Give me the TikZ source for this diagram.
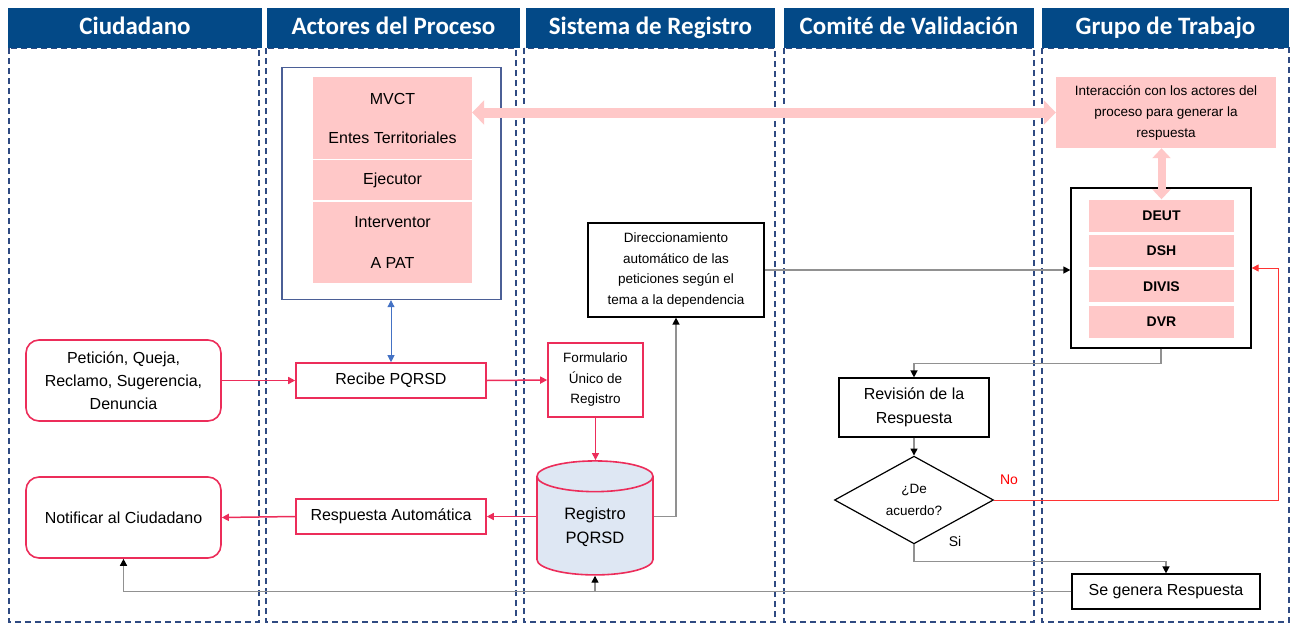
\documentclass[tikz,border=0pt]{standalone}
\usepackage{fontspec}
\setmainfont{Liberation Sans}
\newfontfamily\hdrfont{Carlito}
\usetikzlibrary{arrows.meta,shapes.geometric,positioning}
\definecolor{hdrblue}{RGB}{3,73,135}
\definecolor{lanedash}{RGB}{47,74,130}
\definecolor{rosa}{RGB}{255,200,200}
\definecolor{rojopq}{RGB}{236,45,90}
\definecolor{actblue}{RGB}{75,95,150}
\definecolor{flechaazul}{RGB}{68,114,196}
\definecolor{grislinea}{RGB}{145,145,145}
\definecolor{celeste}{RGB}{222,231,243}
\begin{document}
\begin{tikzpicture}[x=1pt,y=-1pt,
    lane/.style={draw=lanedash,line width=1.2pt,dash pattern=on 6pt off 4pt},
    hdr/.style={fill=hdrblue,text=white,font=\hdrfont\bfseries\fontsize{25}{28}\selectfont,minimum height=40pt,inner sep=0pt,text height=17pt,text depth=5pt},
    txt/.style={font=\fontsize{16}{23}\selectfont,align=center,inner sep=0pt},
    small/.style={font=\fontsize{13.5}{20.5}\selectfont,align=center,inner sep=0pt},
    pqbox/.style={txt,draw=rojopq,line width=1.6pt},
    blkbox/.style={txt,draw=black,line width=1.2pt},
    rosabox/.style={txt,fill=rosa},
    dep/.style={fill=rosa,font=\bfseries\fontsize{14}{16}\selectfont,minimum width=145pt,minimum height=32pt,inner sep=0pt},
    pqline/.style={draw=rojopq,line width=1.5pt,-{Triangle[length=7pt,width=7pt]}},
    gline/.style={draw=grislinea,line width=1.4pt,-{Triangle[length=7pt,width=7pt,color=black]}},
    bigarrow/.style={draw=rosa,line width=10pt,{Triangle[length=12pt,width=24pt]}-{Triangle[length=12pt,width=24pt]}}
    ]
    \useasboundingbox (0,0) rectangle (1291,624);

    % carriles
    \draw[lane] (9,48) rectangle (259,622);
    \draw[lane] (266,48) rectangle (516,622);
    \draw[lane] (524,48) rectangle (775,622);
    \draw[lane] (784,48) rectangle (1034,622);
    \draw[lane] (1042,48) rectangle (1289,622);
    \node[hdr,minimum width=254pt] (hciu) at (135,28) {Ciudadano};
    \node[hdr,minimum width=253pt] (hact) at (393.5,28) {Actores del Proceso};
    \node[hdr,minimum width=249pt] (hsis) at (650.5,28) {Sistema de Registro};
    \node[hdr,minimum width=250pt] (hcom) at (909,28) {Comité de Validación};
    \node[hdr,minimum width=247pt] (hgru) at (1165.5,28) {Grupo de Trabajo};

    % actores del proceso
    \node[draw=actblue,line width=1.3pt,minimum width=219pt,minimum height=232pt] (actores) at (391.5,183.5) {};
    \node[rosabox,font=\fontsize{16}{39}\selectfont,minimum width=159pt,minimum height=82pt] (mvct) at (392.5,118) {MVCT\\Entes Territoriales};
    \node[rosabox,minimum width=159pt,minimum height=40pt,below=1pt of mvct] (ejecutor) {Ejecutor};
    \node[rosabox,font=\fontsize{16}{41}\selectfont,minimum width=159pt,minimum height=81pt,below=1pt of ejecutor] (interventor) {Interventor\\A PAT};

    % grupo de trabajo
    \node[small,fill=rosa,font=\fontsize{13.5}{21}\selectfont,minimum width=220pt,minimum height=71pt] (interac) at (1166,112.5) {Interacción con los actores del\\proceso para generar la\\respuesta};
    \node[draw=black,line width=1.3pt,minimum width=180pt,minimum height=160pt] (grupo) at (1161,268) {};
    \node[dep] (deut) at (1161.5,215.5) {DEUT};
    \node[dep,below=3pt of deut] (dsh) {DSH};
    \node[dep,below=3pt of dsh] (divis) {DIVIS};
    \node[dep,below=3pt of divis] (dvr) {DVR};
    \draw[bigarrow] (interac.west -| mvct.east) -- (interac.west);
    \draw[draw=rosa,line width=8pt,{Triangle[length=10pt,width=18pt]}-{Triangle[length=10pt,width=18pt]}] (interac.south -| deut.north) -- (deut.north);

    % ciudadano
    \node[pqbox,rounded corners=13pt,minimum width=195pt,minimum height=81pt] (peticion) at (123.5,380.5) {Petición, Queja,\\Reclamo, Sugerencia,\\Denuncia};
    \node[pqbox,rounded corners=13pt,minimum width=195pt,minimum height=81pt] (notificar) at (123.5,517.5) {Notificar al Ciudadano};
    \node[pqbox,minimum width=190pt,minimum height=35pt] (recibe) at (391,380.5) {Recibe PQRSD};
    \node[pqbox,minimum width=190pt,minimum height=35pt] (respauto) at (391,516.5) {Respuesta Automática};

    % sistema de registro
    \node[pqbox,small,minimum width=95pt,minimum height=74pt] (formulario) at (595.5,380) {Formulario\\Único de\\Registro};
    \node[cylinder,shape border rotate=90,aspect=0.5,draw=rojopq,line width=1.6pt,fill=celeste,minimum width=116pt,minimum height=114pt,txt,font=\fontsize{16.5}{24}\selectfont] (registro) at (595,526) {\rule{0pt}{14pt}Registro\\PQRSD};
    \node[blkbox,small,minimum width=176pt,minimum height=94pt] (direcc) at (676,270) {Direccionamiento\\automático de las\\peticiones según el\\tema a la dependencia};

    % comite
    \node[blkbox,font=\fontsize{16}{24}\selectfont,minimum width=150pt,minimum height=59pt] (revision) at (914,407.5) {Revisión de la\\Respuesta};
    \node[diamond,draw=black,line width=1.2pt,small,font=\fontsize{13.5}{22}\selectfont,minimum width=159pt,minimum height=82pt] (acuerdo) at (914,500) {¿De\\acuerdo?};
    \node[blkbox,minimum width=188pt,minimum height=35pt] (segenera) at (1166,591.5) {Se genera Respuesta};
    \coordinate (noturn) at (1278,500);

    % conectores
    \draw[pqline] (peticion.east) -- (recibe.west);
    \draw[pqline] (recibe.east) -- (formulario.west);
    \draw[pqline,line width=0.9pt] (formulario.south) -- (formulario.south |- registro.north);
    \draw[pqline] (registro.west |- respauto.east) -- (respauto.east);
    \draw[pqline] (respauto.west) -- (notificar.east);
    \draw[draw=flechaazul,line width=0.8pt,{Triangle[length=7pt,width=7pt]}-{Triangle[length=7pt,width=7pt]}] (actores.south -| recibe.north) -- (recibe.north);
    \draw[gline] (registro.east |- respauto.east) -| (direcc.south);
    \draw[gline] (direcc.east) -- (direcc.east -| grupo.west);
    \draw[gline] (grupo.south) -- ++(0,15) -| (revision.north);
    \draw[gline] (revision.south) -- (acuerdo.north);
    \draw[draw=red!80,line width=1pt,-{Triangle[length=7pt,width=7pt]}] (acuerdo.east) -- (noturn) |- (grupo.east);
    \node[text=red,font=\fontsize{14}{16}\selectfont] (nolbl) at (1009,480) {No};
    \draw[gline] (acuerdo.south) -- ++(0,17) -| (segenera.north);
    \node[font=\fontsize{14}{16}\selectfont] (silbl) at (955,541) {Si};
    \draw[gline] (segenera.west) -| (notificar.south);
    \draw[gline] (registro.south |- segenera.west) -- (registro.south);
\end{tikzpicture}
\end{document}
